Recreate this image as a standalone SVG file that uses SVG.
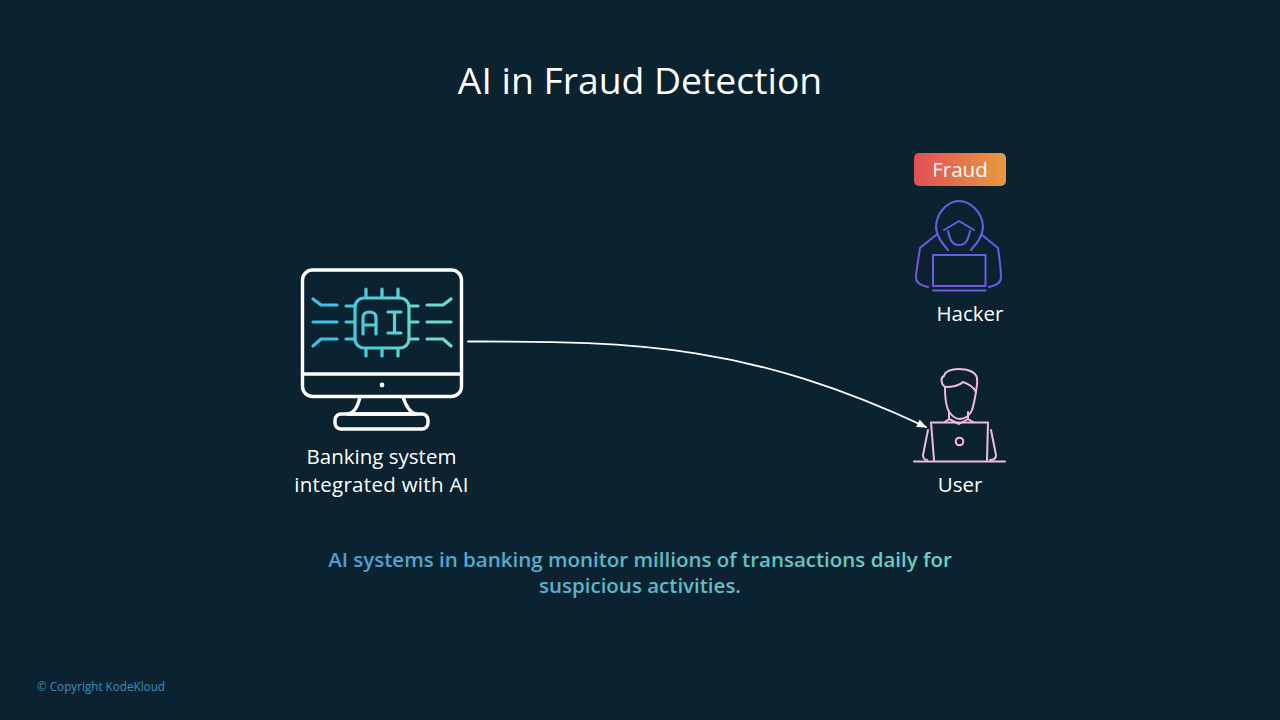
<svg xmlns="http://www.w3.org/2000/svg" width="1280" height="720" viewBox="0 0 1280 720">
<defs>
<linearGradient id="gChip" gradientUnits="userSpaceOnUse" x1="312" y1="0" x2="452" y2="0"><stop offset="0" stop-color="#35c0ec"/><stop offset="1" stop-color="#6fe0c8"/></linearGradient>
<linearGradient id="gFraud" x1="0" y1="0" x2="1" y2="0"><stop offset="0" stop-color="#e14f57"/><stop offset="1" stop-color="#e89a3e"/></linearGradient>
<linearGradient id="gText" gradientUnits="userSpaceOnUse" x1="328" y1="0" x2="952" y2="0"><stop offset="0" stop-color="#4a9fd6"/><stop offset="1" stop-color="#6fd2bf"/></linearGradient>
<linearGradient id="gHack" gradientUnits="userSpaceOnUse" x1="916" y1="290" x2="1002" y2="200"><stop offset="0" stop-color="#7a55e0"/><stop offset="1" stop-color="#5a62ea"/></linearGradient>
<marker id="arrow" markerUnits="userSpaceOnUse" markerWidth="10" markerHeight="10" refX="9" refY="5" orient="auto"><path d="M0 0.8L10 5L0 9.2Z" fill="#ffffff"/></marker>
</defs>
<style>
text{font-family:"Open Sans","Noto Sans","Liberation Sans",sans-serif;fill:#ffffff}
.ln{fill:none;stroke-linecap:round;stroke-linejoin:round}
.mon{stroke:#ffffff;stroke-width:3.4}
.chip{stroke:url(#gChip);stroke-width:3.2}
.hack{stroke:url(#gHack);stroke-width:2}
.usr{stroke:#f0bcd8;stroke-width:2}
.lbl{font-size:20.500px;text-anchor:middle}
.tag{font-size:20.500px;font-weight:600;text-anchor:middle;fill:url(#gText)}
</style>
<rect width="1280" height="720" fill="#0b2230"/>
<text x="640" y="94" font-size="37.300" text-anchor="middle">AI in Fraud Detection</text>

<g id="connectors"><path class="ln" d="M468 341.500C640 341 750 345 926 427" stroke="#ffffff" stroke-width="1.800" marker-end="url(#arrow)"/></g>

<g id="banking-system">
<rect class="ln mon" x="302.500" y="270" width="159" height="126.500" rx="10"/>
<path class="ln mon" d="M302.500 374H461.500"/>
<circle cx="382" cy="385" r="2.400" fill="#ffffff"/>
<path class="ln mon" d="M360 397C358 406 354 413 348 414H416C410 413 406 406 403 397"/>
<rect class="ln mon" x="335" y="414" width="93" height="15" rx="6"/>
<g class="ln chip">
<rect x="355" y="298" width="54" height="50" rx="9"/>
<path d="M366 289V297M382 289V297M398 289V297M366 349V356M382 349V356M398 349V356"/>
<path d="M346 306H354M346 322H354M346 339H354M410 306H418M410 322H418M410 339H418"/>
<path d="M313 299L321 305H337M313 322H337M313 346L321 339H337"/>
<path d="M451 299L443 305H427M451 322H427M451 346L443 339H427"/>
<path d="M363 334V318Q363 312 369.500 312Q376 312 376 318V334M363 325H376"/>
<path d="M388 312H401M394.500 312V333M388 333H401"/>
</g>
<text class="lbl" x="381.500" y="464">Banking system</text>
<text class="lbl" x="381.500" y="492" style="letter-spacing:.3px">integrated with AI</text>
</g>

<g id="fraud">
<rect x="914" y="153" width="92" height="33" rx="5" fill="url(#gFraud)"/>
<text x="960" y="177" font-size="20.500" text-anchor="middle">Fraud</text>
</g>

<g id="hacker">
<g class="ln hack">
<path d="M948 250C942 243 936 236 936 226C937 212 948 201 959 201C970 201 982 212 983 226C983 236 977 243 971 250"/>
<path d="M944 230L959 221L974 230"/>
<path d="M948 231C950 240 952 245 959 245C966 245 968 240 970 231"/>
<path d="M936 235L920 248C918 262 916 272 916 277C916 283 920 285 928 287"/>
<path d="M982 235L998 248C1000 262 1001 272 1001 277C1001 283 997 285 989 287"/>
<rect x="933" y="255" width="52.500" height="31"/>
<path d="M933 290.500H985.500"/>
</g>
<text class="lbl" x="970" y="321">Hacker</text>
</g>

<g id="user">
<g class="ln usr">
<path d="M945 387C941 384 940 378 944 376C945 371 952 369 958 369C968 369 976 372 977 378C978 384 976 389 976 392"/>
<path d="M945 387C955 387 961 384 963 382C968 384 973 386 976 392"/>
<path d="M945 387C945 400 946 408 950 413C953 417 957 419 960 419C964 419 970 416 972 410C974 404 975 398 976 392"/>
<path d="M949 412V419L945 422M968 412V419L973 422"/>
<path d="M949 419L959 424L968 419"/>
<path d="M931 422.500H988L987 460M931 422.500L934 460"/>
<path d="M928 430L923 455C923 458 925 460 927 460"/>
<path d="M991 430L996 455C996 458 994 460 990 460"/>
<circle cx="959.500" cy="441.500" r="3.800"/>
<path d="M914 461.500H1005"/>
</g>
<text class="lbl" x="960" y="492">User</text>
</g>

<text class="tag" x="640" y="567">AI systems in banking monitor millions of transactions daily for</text>
<text class="tag" x="640" y="593">suspicious activities.</text>
<text x="37" y="691" font-size="11.700" style="fill:#3f8fbf">© Copyright KodeKloud</text>
</svg>
